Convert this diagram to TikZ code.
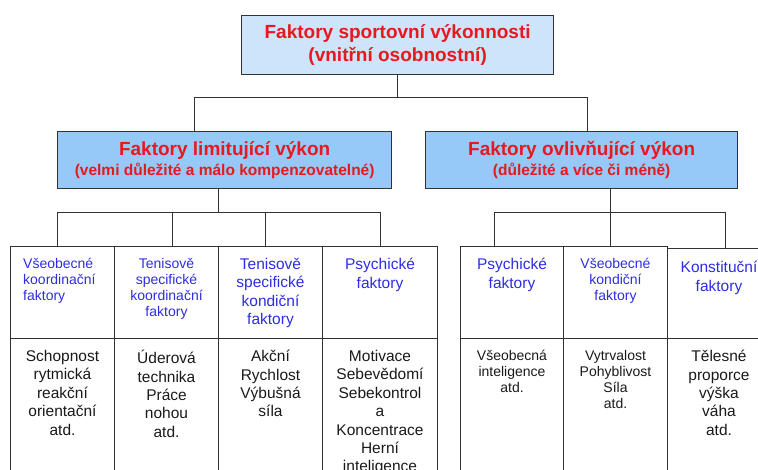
\documentclass[tikz,border=0pt]{standalone}
\usepackage{fontspec}
\setmainfont{Liberation Sans}
\usepackage{xcolor}
\usepackage{tikz}

\definecolor{titulred}{RGB}{230,25,30}
\definecolor{bunkablue}{RGB}{45,45,225}
\definecolor{hornifill}{RGB}{206,228,250}
\definecolor{strednifill}{RGB}{150,200,248}
\definecolor{linegray}{RGB}{50,50,50}
\definecolor{textblack}{RGB}{25,25,25}

\tikzset{
  hlavni/.style={draw=linegray, line width=1.3pt, anchor=north west, inner sep=0pt,
    align=center, text=titulred, font=\bfseries\fontsize{15.5}{20}\selectfont},
  bunka/.style={draw=linegray, line width=1pt, anchor=north west, inner sep=0pt},
  spoj/.style={draw=linegray, line width=1pt},
  malypis/.style={font=\fontsize{14}{16}\selectfont, inner sep=0pt, anchor=north,
    align=center, execute at begin node={\rule{0pt}{0.95em}}},
  velkypis/.style={font=\fontsize{15.5}{18.4}\selectfont, inner sep=0pt, anchor=north,
    align=center, execute at begin node={\rule{0pt}{0.95em}}},
}

\begin{document}
\begin{tikzpicture}[x=1pt,y=-1pt]
    \useasboundingbox (0,0) rectangle (758,469);
    \clip (0,0) rectangle (758,469);

    % horni a stredni boxy
    \node[hlavni, fill=hornifill, minimum width=312pt, minimum height=59pt,
      font=\bfseries\fontsize{19}{22.5}\selectfont] (vykonnost) at (241,15)
      {Faktory sportovní výkonnosti\\(vnitřní osobnostní)};
    \node[hlavni, fill=strednifill, minimum width=334pt, minimum height=57pt] (limit) at (57,131)
      {{\fontsize{19}{20}\selectfont Faktory limitující výkon}\\(velmi důležité a málo kompenzovatelné)};
    \node[hlavni, fill=strednifill, minimum width=312pt, minimum height=57pt] (ovliv) at (425,131)
      {{\fontsize{19}{20}\selectfont Faktory ovlivňující výkon}\\(důležité a více či méně)};

    % bunky
    \node[bunka, minimum width=104pt, minimum height=92pt] (h1) at (10,246) {};
    \node[bunka, minimum width=104pt, minimum height=92pt] (h2) at (114,246) {};
    \node[bunka, minimum width=104pt, minimum height=92pt] (h3) at (218,246) {};
    \node[bunka, minimum width=115pt, minimum height=92pt] (h4) at (322,246) {};
    \node[bunka, minimum width=103pt, minimum height=92pt] (h5) at (460,246) {};
    \node[bunka, minimum width=104pt, minimum height=92pt] (h6) at (563,246) {};
    \node[bunka, minimum width=103pt, minimum height=90pt] (h7) at (667,248) {};
    \node[bunka, minimum width=104pt, minimum height=180pt] (b1) at (10,338) {};
    \node[bunka, minimum width=104pt, minimum height=180pt] (b2) at (114,338) {};
    \node[bunka, minimum width=104pt, minimum height=180pt] (b3) at (218,338) {};
    \node[bunka, minimum width=115pt, minimum height=180pt] (b4) at (322,338) {};
    \node[bunka, minimum width=103pt, minimum height=180pt] (b5) at (460,338) {};
    \node[bunka, minimum width=104pt, minimum height=180pt] (b6) at (563,338) {};
    \node[bunka, minimum width=103pt, minimum height=180pt] (b7) at (667,338) {};

    % spoje
    \coordinate (v1) at (194,97);
    \coordinate (v2) at (587,97);
    \draw[spoj] (vykonnost.south) -- (vykonnost.south |- v1);
    \draw[spoj] (v1) -- (v2);
    \draw[spoj] (v1) -- (v1 |- limit.north);
    \draw[spoj] (v2) -- (v2 |- ovliv.north);

    \coordinate (l1) at (57,212);
    \coordinate (l2) at (172,212);
    \coordinate (l3) at (265,212);
    \coordinate (l4) at (380,212);
    \draw[spoj] ([xshift=-6pt]limit.south) -- ([xshift=-6pt]limit.south |- l1);
    \draw[spoj] (l1) -- (l4);
    \foreach \k/\c in {l1/h1, l2/h2, l3/h3, l4/h4}
        \draw[spoj] (\k) -- (\k |- \c.north);

    \coordinate (r1) at (494,212);
    \coordinate (r2) at (610,212);
    \coordinate (r3) at (725,212);
    \draw[spoj] ([xshift=29pt]ovliv.south) -- ([xshift=29pt]ovliv.south |- r1);
    \draw[spoj] (r1) -- (r3);
    \foreach \k/\c in {r1/h5, r2/h6, r3/h7}
        \draw[spoj] (\k) -- (\k |- \c.north);

    % texty
    \node[malypis, text=bunkablue, anchor=north west, align=left] (t1) at ([xshift=13pt,yshift=-12pt]h1.north west) {Všeobecné\\koordinační\\faktory};
    \node[malypis, text=bunkablue] (t2) at ([yshift=-12pt]h2.north) {Tenisově\\specifické\\koordinační\\faktory};
    \node[velkypis, text=bunkablue] (t3) at ([yshift=-12pt]h3.north) {Tenisově\\specifické\\kondiční\\faktory};
    \node[velkypis, text=bunkablue] (t4) at ([yshift=-12pt]h4.north) {Psychické\\faktory};
    \node[velkypis, text=bunkablue] (t5) at ([yshift=-12pt]h5.north) {Psychické\\faktory};
    \node[malypis, text=bunkablue] (t6) at ([yshift=-12pt]h6.north) {Všeobecné\\kondiční\\faktory};
    \node[velkypis, text=bunkablue] (t7) at ([yshift=-13pt]h7.north) {Konstituční\\faktory};

    \node[velkypis, text=textblack] (s1) at ([yshift=-12pt]b1.north) {Schopnost\\rytmická\\reakční\\orientační\\atd.};
    \node[velkypis, text=textblack] (s2) at ([yshift=-12pt]b2.north) {Úderová\\technika\\Práce\\nohou\\atd.};
    \node[velkypis, text=textblack] (s3) at ([yshift=-12pt]b3.north) {Akční\\Rychlost\\Výbušná\\síla};
    \node[velkypis, text=textblack] (s4) at ([yshift=-12pt]b4.north) {Motivace\\Sebevědomí\\Sebekontrol\\a\\Koncentrace\\Herní\\inteligence};
    \node[malypis, text=textblack] (s5) at ([yshift=-12pt]b5.north) {Všeobecná\\inteligence\\atd.};
    \node[malypis, text=textblack] (s6) at ([yshift=-12pt]b6.north) {Vytrvalost\\Pohyblivost\\Síla\\atd.};
    \node[velkypis, text=textblack] (s7) at ([yshift=-12pt]b7.north) {Tělesné\\proporce\\výška\\váha\\atd.};
\end{tikzpicture}
\end{document}
